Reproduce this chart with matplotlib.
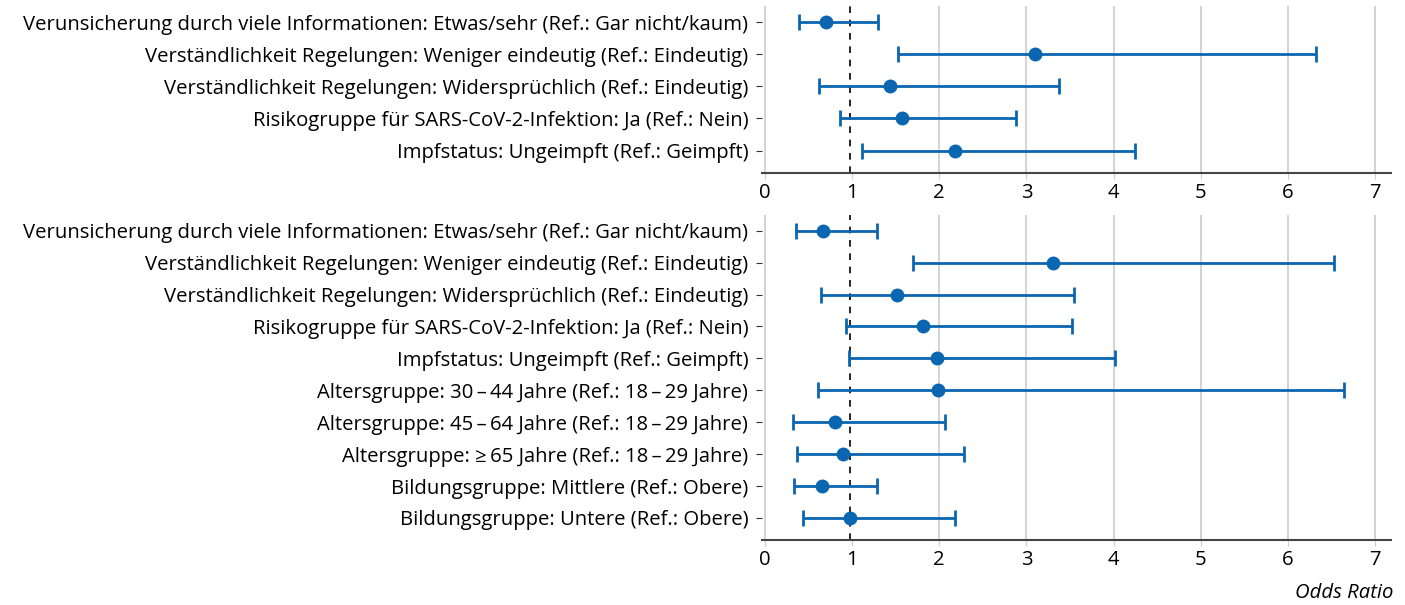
import numpy as np
import matplotlib
matplotlib.use("Agg")
import matplotlib.pyplot as plt

plt.rcParams['font.family'] = ['Open Sans', 'DejaVu Sans']

# Modell 1
labels_top = [
    "Verunsicherung durch viele Informationen: Etwas/sehr (Ref.: Gar nicht/kaum)",
    "Verständlichkeit Regelungen: Weniger eindeutig (Ref.: Eindeutig)",
    "Verständlichkeit Regelungen: Widersprüchlich (Ref.: Eindeutig)",
    "Risikogruppe für SARS-CoV-2-Infektion: Ja (Ref.: Nein)",
    "Impfstatus: Ungeimpft (Ref.: Geimpft)",
]
or_top = [0.70, 3.10, 1.44, 1.57, 2.18]
lo_top = [0.39, 1.53, 0.62, 0.86, 1.12]
hi_top = [1.30, 6.32, 3.37, 2.88, 4.24]

# Modell 2
labels_bot = labels_top + [
    "Altersgruppe: 30\u2009\u2013\u200944 Jahre (Ref.: 18\u2009\u2013\u200929 Jahre)",
    "Altersgruppe: 45\u2009\u2013\u200964 Jahre (Ref.: 18\u2009\u2013\u200929 Jahre)",
    "Altersgruppe: \u2265\u200965 Jahre (Ref.: 18\u2009\u2013\u200929 Jahre)",
    "Bildungsgruppe: Mittlere (Ref.: Obere)",
    "Bildungsgruppe: Untere (Ref.: Obere)",
]
or_bot = [0.67, 3.31, 1.51, 1.81, 1.97, 1.99, 0.81, 0.90, 0.66, 0.98]
lo_bot = [0.36, 1.70, 0.64, 0.93, 0.96, 0.61, 0.32, 0.37, 0.34, 0.44]
hi_bot = [1.29, 6.53, 3.55, 3.52, 4.02, 6.64, 2.07, 2.28, 1.29, 2.18]

blau = '#0a66b0'
fs = 14.6

fig = plt.figure(figsize=(14.05, 6.05), dpi=100)
ax1 = fig.add_axes([0.5425, 0.714, 0.4475, 0.276])
ax2 = fig.add_axes([0.5425, 0.107, 0.4475, 0.538])


def zeichne(ax, labels, orr, lo, hi):
    y = np.arange(len(labels))
    orr = np.array(orr)
    err = [orr - np.array(lo), np.array(hi) - orr]
    ax.errorbar(orr, y, xerr=err, fmt='o', color=blau, ms=9, lw=2,
                capsize=6, capthick=2, zorder=3)
    # Gitterlinien (ohne 1, dort liegt die Referenzlinie)
    for g in [0, 2, 3, 4, 5, 6, 7]:
        ax.axvline(g, color='#cccccc', lw=1.2, zorder=0)
    ax.axvline(0.98, color='black', ls=(0, (4, 4)), lw=1.2, zorder=2)
    ax.set_xlim(-0.03, 7.18)
    ax.set_ylim(len(labels) - 1 + 0.7, -0.5)
    ax.set_yticks(y)
    ax.set_yticklabels(labels, fontsize=fs)
    ax.set_xticks(range(8))
    ax.tick_params(axis='x', labelsize=fs, length=4, color='#cccccc', pad=3)
    ax.tick_params(axis='y', length=4, color='#333333', pad=6)
    for s in ['left', 'right', 'top']:
        ax.spines[s].set_visible(False)
    ax.spines['bottom'].set_color('#444444')
    ax.spines['bottom'].set_linewidth(1.5)


zeichne(ax1, labels_top, or_top, lo_top, hi_top)
zeichne(ax2, labels_bot, or_bot, lo_bot, hi_bot)

fig.text(0.992, 0.003, "Odds Ratio", ha='right', va='bottom',
         fontsize=fs, style='italic')

fig.savefig("out.png", dpi=100)
